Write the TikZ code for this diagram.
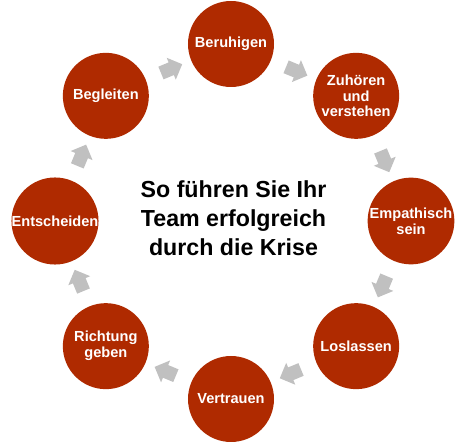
\documentclass[tikz,border=0pt]{standalone}
\usepackage{fontspec}
\setmainfont{Liberation Sans}
\usetikzlibrary{shapes.arrows,calc}

\definecolor{krisenrot}{RGB}{175,42,0}
\definecolor{pfeilgrau}{RGB}{192,192,192}

\tikzset{
  schritt/.style={circle, fill=krisenrot, text=white, align=center,
    font=\fontsize{8.3}{9}\selectfont\bfseries, minimum size=1.72cm, inner sep=0pt},
  pfeil/.style={single arrow, fill=pfeilgrau, draw=none, minimum height=0.46cm,
    inner sep=0.13cm, single arrow head extend=0.1cm}
}

\begin{document}
\begin{tikzpicture}
            \useasboundingbox (-4.62,-4.48) rectangle (4.62,4.42);
            % Kreise
            \node[schritt] (beruhigen) at (90:3.54) {Beruhigen};
            \node[schritt] (zuhoeren) at (45:3.54) {Zuhören\\und\\verstehen};
            \node[schritt] (empathisch) at (0:3.6) {Empathisch\\sein};
            \node[schritt] (loslassen) at (-45:3.54) {Loslassen};
            \node[schritt] (vertrauen) at (-90:3.56) {Vertrauen};
            \node[schritt] (richtung) at (-135:3.54) {Richtung\\geben};
            \node[schritt] (entscheiden) at (180:3.52) {Entscheiden};
            \node[schritt] (begleiten) at (135:3.54) {Begleiten};
            % Pfeile
            \node[pfeil, rotate=-22.5] (p1) at ($(beruhigen)!0.5!(zuhoeren)$) {};
            \node[pfeil, rotate=-67.5] (p2) at ($(zuhoeren)!0.5!(empathisch)$) {};
            \node[pfeil, rotate=-112.5] (p3) at ($(empathisch)!0.5!(loslassen)$) {};
            \node[pfeil, rotate=-157.5] (p4) at ($(loslassen)!0.5!(vertrauen)$) {};
            \node[pfeil, rotate=157.5] (p5) at ($(vertrauen)!0.5!(richtung)$) {};
            \node[pfeil, rotate=112.5] (p6) at ($(richtung)!0.5!(entscheiden)$) {};
            \node[pfeil, rotate=67.5] (p7) at ($(entscheiden)!0.5!(begleiten)$) {};
            \node[pfeil, rotate=22.5] (p8) at ($(begleiten)!0.5!(beruhigen)$) {};
            \node[align=center, font=\fontsize{13.2}{16.4}\selectfont\bfseries] (titel) at (0.05,0.05) {So führen Sie Ihr\\Team erfolgreich\\durch die Krise};
        \end{tikzpicture}
\end{document}
